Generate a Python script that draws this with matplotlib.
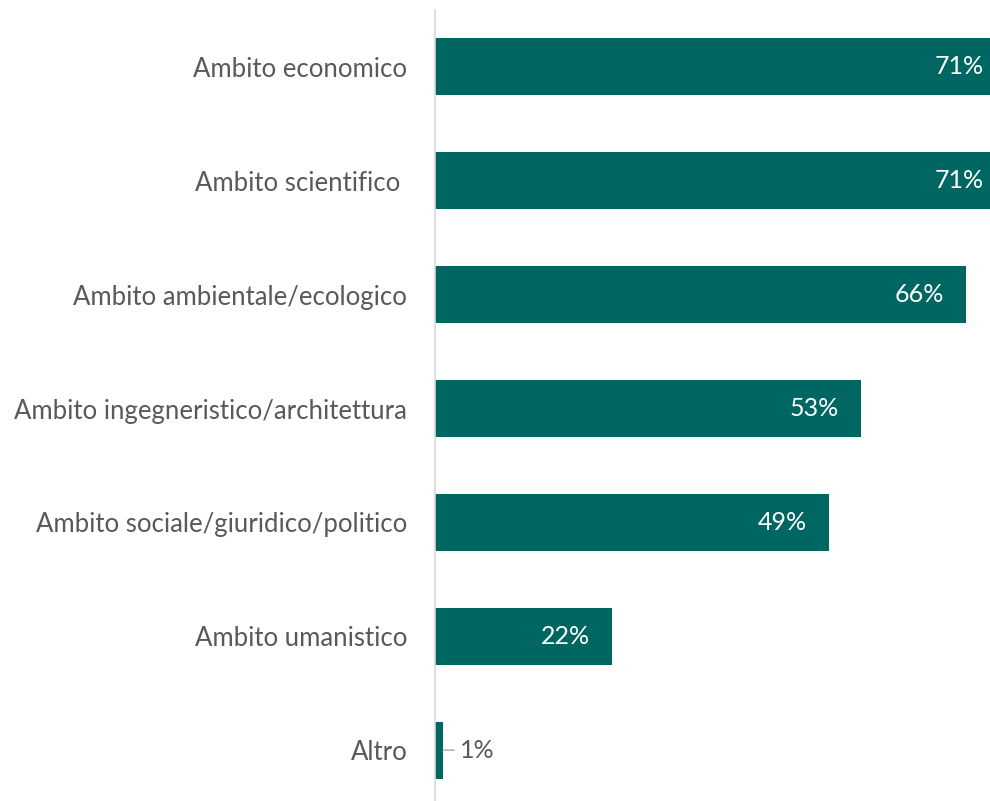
import matplotlib.pyplot as plt

categories = [
    "Ambito economico",
    "Ambito scientifico ",
    "Ambito ambientale/ecologico",
    "Ambito ingegneristico/architettura",
    "Ambito sociale/giuridico/politico",
    "Ambito umanistico",
    "Altro",
]
values = [71, 71, 66, 53, 49, 22, 1]

bar_color = "#006661"
text_color = "#595959"

plt.rcParams["font.family"] = ["Lato", "DejaVu Sans"]

fig = plt.figure(figsize=(9.9, 8.01), dpi=100)
ax = fig.add_axes([435 / 990, -6 / 801, 555 / 990, 797 / 801])

y = list(range(len(categories)))
ax.barh(y, values, height=0.5, color=bar_color)
ax.set_xlim(0, 69)
ax.set_ylim(len(categories) - 0.5, -0.5)

ax.set_yticks(y)
ax.set_yticklabels(categories, fontsize=18.5, color=text_color)
ax.tick_params(axis="y", length=0, pad=20)
ax.set_xticks([])
for side in ["top", "right", "bottom"]:
    ax.spines[side].set_visible(False)
ax.spines["left"].set_color("#d9d9d9")
ax.spines["left"].set_linewidth(1.2)

for yi, v in zip(y, values):
    if v > 5:
        ax.annotate(f"{v}%", xy=(v, yi), xytext=(-16, 0), textcoords="offset points",
                    ha="right", va="center", fontsize=18, color="white",
                    annotation_clip=False)
    else:
        ax.annotate(f"{v}%", xy=(v, yi), xytext=(12, 0), textcoords="offset points",
                    ha="left", va="center", fontsize=18, color=text_color,
                    arrowprops=dict(arrowstyle="-", color="#a6a6a6", lw=1,
                                    shrinkA=2, shrinkB=0))

fig.savefig("out.png", dpi=100)
